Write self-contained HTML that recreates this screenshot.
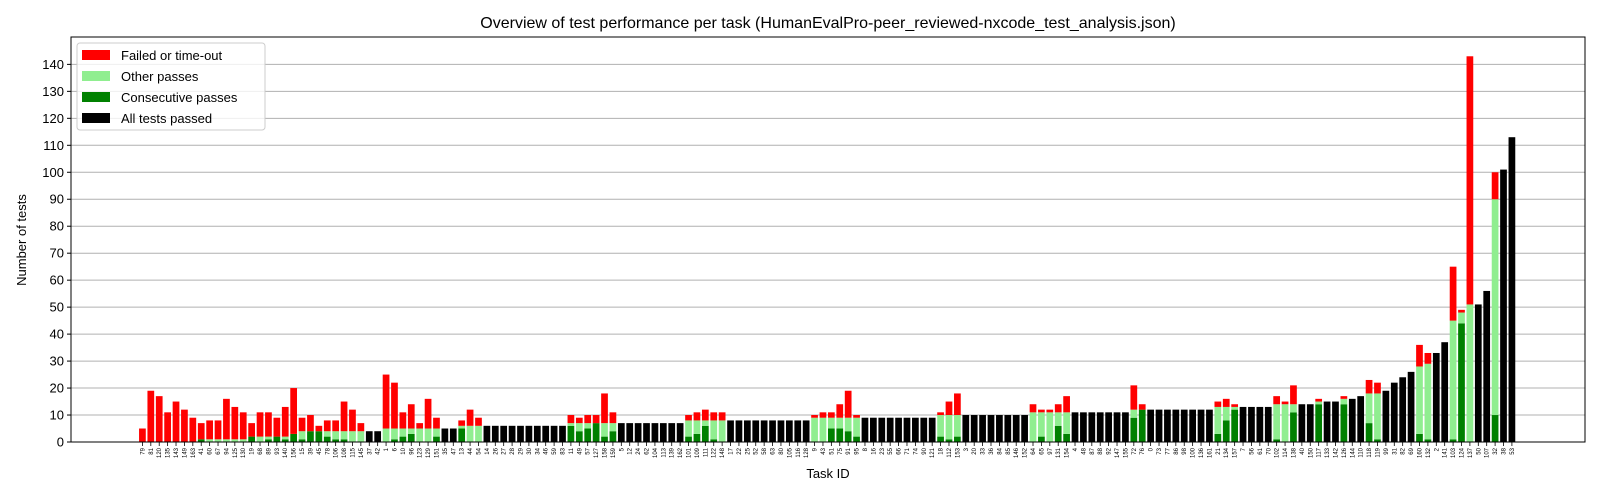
<!DOCTYPE html>
<html><head><meta charset="utf-8"><style>
body{margin:0;background:#fff;}
svg{display:block;font-family:"Liberation Sans","DejaVu Sans",sans-serif;}
</style></head><body>
<svg id="chart" width="1600" height="500">
<text x="828" y="28" text-anchor="middle" font-size="16">Overview of test performance per task (HumanEvalPro-peer_reviewed-nxcode_test_analysis.json)</text>
<text x="26" y="240" text-anchor="middle" font-size="13" transform="rotate(-90 26 240)">Number of tests</text>
<text x="828" y="478" text-anchor="middle" font-size="13">Task ID</text>
<g id="grid"></g><g id="bars"></g><g id="axes"></g>
<g>
<rect x="77" y="43" width="188" height="87" fill="#fff" fill-opacity="0.8" stroke="#ccc" rx="3"/>
<g><rect x="82" y="50" width="28" height="10" fill="#ff0000"/><text x="121" y="60" font-size="13">Failed or time-out</text></g>
<g><rect x="82" y="71" width="28" height="10" fill="#90ee90"/><text x="121" y="81" font-size="13">Other passes</text></g>
<g><rect x="82" y="92" width="28" height="10" fill="#008000"/><text x="121" y="102" font-size="13">Consecutive passes</text></g>
<g><rect x="82" y="113" width="28" height="10" fill="#000000"/><text x="121" y="123" font-size="13">All tests passed</text></g>
</g>
</svg>
<script>
const taskIds=["79","81","120","135","143","149","163","41","60","67","94","125","130","19","68","89","93","140","156","15","39","45","78","106","108","115","145","37","42","1","6","10","96","123","129","151","35","47","13","44","54","14","26","27","28","29","30","34","46","59","83","11","49","57","127","158","159","5","12","24","62","104","113","139","162","101","109","111","122","148","17","22","25","52","58","63","80","105","116","128","9","43","51","75","91","95","8","16","23","55","66","71","74","90","121","18","112","153","3","20","33","36","84","85","146","152","64","65","97","131","154","4","48","87","88","92","147","155","72","76","0","73","77","86","98","100","136","161","21","134","157","7","56","61","70","102","114","138","40","150","117","133","142","126","144","110","118","119","99","31","82","69","160","132","2","141","103","124","137","50","107","32","38","53"];
const consecutive=[0,0,0,0,0,0,0,1,0,0,0,0,0,2,0,1,2,1,3,1,4,4,2,1,1,0,0,0,0,0,1,2,3,0,0,2,0,0,5,0,0,0,0,0,0,0,0,0,0,0,0,6,4,5,7,2,4,0,0,0,0,0,0,0,0,2,3,6,1,0,0,0,0,0,0,0,0,0,0,0,0,0,5,5,4,2,0,0,0,0,0,0,0,0,0,2,1,2,0,0,0,0,0,0,0,0,0,2,0,6,3,0,0,0,0,0,0,0,9,12,0,0,0,0,0,0,0,0,3,8,12,0,0,0,0,1,0,11,0,0,14,0,0,14,0,0,7,1,0,0,0,0,3,1,0,0,1,44,0,0,0,10,0,0];
const otherPasses=[0,0,0,0,0,0,0,0,1,1,1,1,1,0,2,1,0,1,0,3,0,0,2,3,3,4,4,0,0,5,4,3,2,5,5,3,0,0,1,6,6,0,0,0,0,0,0,0,0,0,0,1,3,2,0,5,3,0,0,0,0,0,0,0,0,6,5,2,7,8,0,0,0,0,0,0,0,0,0,0,9,9,4,4,5,7,0,0,0,0,0,0,0,0,0,8,9,8,0,0,0,0,0,0,0,0,11,9,11,5,8,0,0,0,0,0,0,0,3,0,0,0,0,0,0,0,0,0,10,5,1,0,0,0,0,13,14,3,0,0,1,0,0,2,0,0,11,17,0,0,0,0,25,28,0,0,44,4,51,0,0,80,0,0];
const failed=[5,19,17,11,15,12,9,6,7,7,15,12,10,5,9,9,7,11,17,5,6,2,4,4,11,8,3,0,0,20,17,6,9,2,11,4,0,0,2,6,3,0,0,0,0,0,0,0,0,0,0,3,2,3,3,11,4,0,0,0,0,0,0,0,0,2,3,4,3,3,0,0,0,0,0,0,0,0,0,0,1,2,2,5,10,1,0,0,0,0,0,0,0,0,0,1,5,8,0,0,0,0,0,0,0,0,3,1,1,3,6,0,0,0,0,0,0,0,9,2,0,0,0,0,0,0,0,0,2,3,1,0,0,0,0,3,1,7,0,0,1,0,0,1,0,0,5,4,0,0,0,0,8,4,0,0,20,1,92,0,0,10,0,0];
const allPassed=[0,0,0,0,0,0,0,0,0,0,0,0,0,0,0,0,0,0,0,0,0,0,0,0,0,0,0,4,4,0,0,0,0,0,0,0,5,5,0,0,0,6,6,6,6,6,6,6,6,6,6,0,0,0,0,0,0,7,7,7,7,7,7,7,7,0,0,0,0,0,8,8,8,8,8,8,8,8,8,8,0,0,0,0,0,0,9,9,9,9,9,9,9,9,9,0,0,0,10,10,10,10,10,10,10,10,0,0,0,0,0,11,11,11,11,11,11,11,0,0,12,12,12,12,12,12,12,12,0,0,0,13,13,13,13,0,0,0,14,14,0,15,15,0,16,17,0,0,19,22,24,26,0,0,33,37,0,0,0,51,56,0,101,113];
const yTicks=[0,10,20,30,40,50,60,70,80,90,100,110,120,130,140];

const NS="http://www.w3.org/2000/svg";
const L=71,R=1585,T=37,B=442;
const xMin=-8.5,xMax=171.7,yMax=150.15;
const xs=i=>L+(i-xMin)/(xMax-xMin)*(R-L);
const ys=v=>B-v/yMax*(B-T);
const bw=0.8*(R-L)/(xMax-xMin);
function mk(tag,attrs,parent){const e=document.createElementNS(NS,tag);for(const k in attrs)e.setAttribute(k,attrs[k]);parent.appendChild(e);return e;}
const grid=document.getElementById('grid'),bars=document.getElementById('bars'),axes=document.getElementById('axes');
yTicks.forEach(t=>{
  const g=mk('line',{x1:L,x2:R,y1:ys(t),y2:ys(t),stroke:'#b0b0b0','stroke-width':1},grid);
  
  
  mk('line',{x1:L-4,x2:L,y1:ys(t),y2:ys(t),stroke:'#000'},axes);
  const tx=mk('text',{x:L-7,y:ys(t)+4.5,'text-anchor':'end','font-size':13},axes);
  tx.textContent=t;
  
  
});
function seg(i,v0,v1,color,name){
  if(v1<=v0)return;
  const r=mk('rect',{x:xs(i)-bw/2,y:ys(v1),width:bw,height:ys(v0)-ys(v1),fill:color},bars);
  
  
}
taskIds.forEach((id,i)=>{
  const c=consecutive[i],o=otherPasses[i],f=failed[i],a=allPassed[i];
  if(a>0){seg(i,0,a,'#000000','bar-all-passed-'+id);}
  else{
    seg(i,0,c,'#008000','bar-consecutive-'+id);
    seg(i,c,c+o,'#90ee90','bar-other-passes-'+id);
    seg(i,c+o,c+o+f,'#ff0000','bar-failed-'+id);
  }
  const x=xs(i);
  mk('line',{x1:x,x2:x,y1:B,y2:B+4,stroke:'#000','stroke-width':0.8},axes);
  const tx=mk('text',{x:0,y:0,'font-size':6,'text-anchor':'end',transform:`translate(${x+2},${B+6}) rotate(-90)`},axes);
  tx.textContent=id;
  
  
});
const fr=mk('rect',{x:L,y:T,width:R-L,height:B-T,fill:'none',stroke:'#000','stroke-width':1},axes);


</script>
</body></html>
